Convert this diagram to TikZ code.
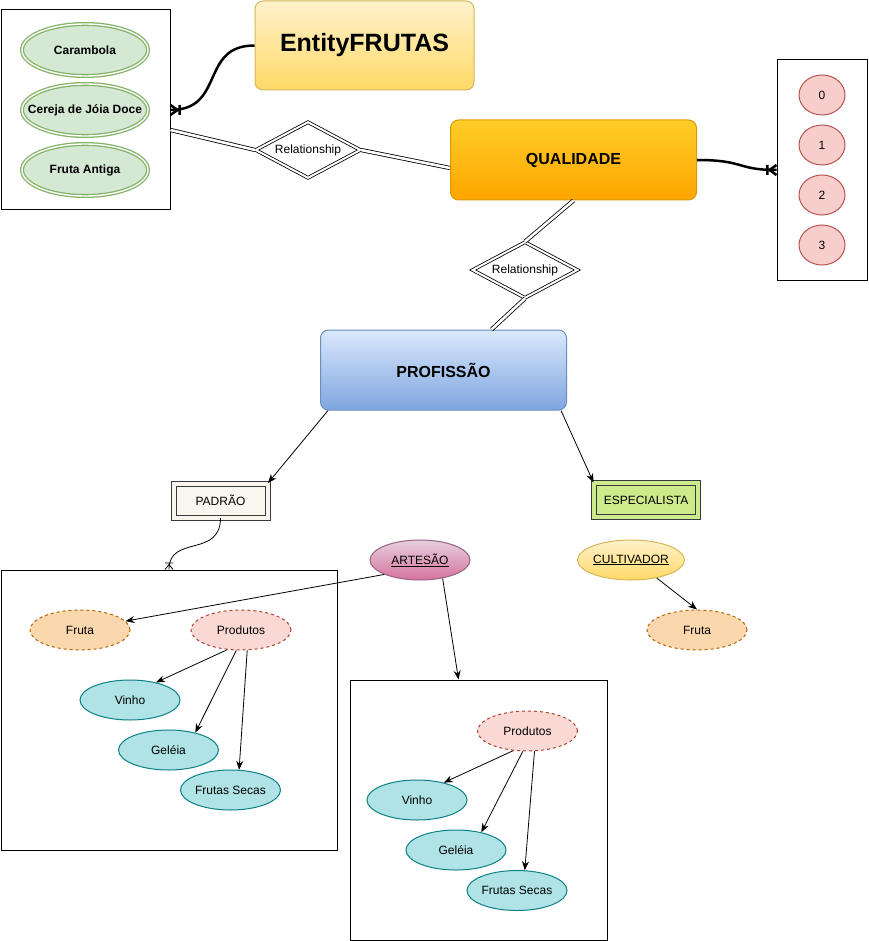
\documentclass[tikz,border=0pt]{standalone}
\usepackage{fontspec}
\setmainfont{Liberation Sans}
\usetikzlibrary{arrows.meta,shapes.geometric}

\definecolor{grnF}{HTML}{D5E8D4}
\definecolor{grnS}{HTML}{82B366}
\definecolor{entT}{HTML}{FFF2CC}
\definecolor{entB}{HTML}{FFD966}
\definecolor{entS}{HTML}{D6B656}
\definecolor{quaT}{HTML}{FFCD28}
\definecolor{quaB}{HTML}{FFA500}
\definecolor{quaS}{HTML}{D79B00}
\definecolor{proT}{HTML}{DAE8FC}
\definecolor{proB}{HTML}{7EA6E0}
\definecolor{proS}{HTML}{6C8EBF}
\definecolor{redF}{HTML}{F8CECC}
\definecolor{redS}{HTML}{B85450}
\definecolor{padF}{HTML}{F9F7ED}
\definecolor{darkS}{HTML}{36393D}
\definecolor{espF}{HTML}{CDEB8B}
\definecolor{artT}{HTML}{E6D0DE}
\definecolor{artB}{HTML}{D5739D}
\definecolor{artS}{HTML}{996185}
\definecolor{fruF}{HTML}{FAD7AC}
\definecolor{fruS}{HTML}{B46504}
\definecolor{prdF}{HTML}{FAD9D5}
\definecolor{prdS}{HTML}{AE4132}
\definecolor{cyaF}{HTML}{B0E3E6}
\definecolor{cyaS}{HTML}{0E8088}

\pgfdeclarearrow{
  name = Crow,
  parameters = {\the\pgfarrowlength,\the\pgfarrowwidth},
  setup code = {
    \pgfarrowssettipend{0pt}
    \pgfarrowssetlineend{0pt}
    \pgfarrowssetbackend{-1.3\pgfarrowlength}
    \pgfarrowssavethe\pgfarrowlength
    \pgfarrowssavethe\pgfarrowwidth
  },
  drawing code = {
    \pgfsetdash{}{0pt}
    \pgfpathmoveto{\pgfqpoint{0pt}{0.5\pgfarrowwidth}}
    \pgfpathlineto{\pgfqpoint{-\pgfarrowlength}{0pt}}
    \pgfpathlineto{\pgfqpoint{0pt}{-0.5\pgfarrowwidth}}
    \pgfpathmoveto{\pgfqpoint{-1.3\pgfarrowlength}{0.5\pgfarrowwidth}}
    \pgfpathlineto{\pgfqpoint{-1.3\pgfarrowlength}{-0.5\pgfarrowwidth}}
    \pgfusepathqstroke
  },
  defaults = {length=7pt, width=10pt}
}

\begin{document}
\begin{tikzpicture}[x=1pt,y=-1pt,
  every node/.style={font=\fontsize{12}{14}\selectfont, inner sep=0pt},
  boxn/.style={rectangle, draw=black, line width=1pt},
  gell/.style={ellipse, draw=grnS, fill=grnF, double=white, double distance=1.4pt, line width=1.3pt,
    minimum width=126pt, minimum height=52pt, font=\fontsize{12}{14}\selectfont\bfseries},
  rell/.style={ellipse, draw=redS, fill=redF, line width=1pt, minimum width=46pt, minimum height=40pt},
  rel/.style={diamond, draw=black, fill=white, double=white, double distance=2pt, line width=0.8pt,
    aspect=1.85, minimum width=105pt, minimum height=56pt},
  bigent/.style={rectangle, rounded corners=8pt, line width=1pt, minimum width=246pt, minimum height=80pt,
    font=\fontsize{16}{19}\selectfont\bfseries},
  dbl/.style={draw=black, line width=0.8pt, double=white, double distance=2.6pt},
  thick/.style={line width=2.5pt, -{Crow[length=7pt,width=10pt]}},
  arr/.style={line width=0.8pt, -{Stealth[length=9pt,width=7pt]}},
  dblrect/.style={rectangle, draw=darkS, line width=1pt, double distance=4pt, minimum width=94pt, minimum height=34pt},
  ell/.style={ellipse, line width=1pt, minimum width=100pt, minimum height=40pt},
  fruta/.style={ell, draw=fruS, fill=fruF, dashed},
  prod/.style={ell, draw=prdS, fill=prdF, dashed},
  cyan/.style={ell, draw=cyaS, fill=cyaF}
]
\useasboundingbox (0,0) rectangle (868,941);

% left box with fruits
\node[boxn, minimum width=169pt, minimum height=200pt] (box1) at (85.5,110) {};
\node[gell] (carambola) at (85,50) {\makebox[0pt]{Carambola}};
\node[gell] (cereja) at (85,110) {\makebox[0pt]{Cereja de Jóia Doce}};
\node[gell] (antiga) at (85,170) {\makebox[0pt]{Fruta Antiga}};

% EntityFRUTAS
\node[rectangle, rounded corners=8pt, draw=entS, line width=1pt, top color=entT, bottom color=entB,
  minimum width=219pt, minimum height=89pt, font=\fontsize{25}{30}\selectfont\bfseries]
  (entity) at (364.5,45.5) {EntityFRUTAS};

% QUALIDADE
\node[bigent, draw=quaS, top color=quaT, bottom color=quaB] (qual) at (573.5,160) {QUALIDADE};

% right box with numbers
\node[boxn, minimum width=90pt, minimum height=220pt] (rbox) at (822,170) {};
\node[rell] (n0) at (822,95) {0};
\node[rell] (n1) at (822,145) {1};
\node[rell] (n2) at (822,195) {2};
\node[rell] (n3) at (822,245) {3};

% relationships
\node[rel] (rel1) at (308,150) {Relationship};
\node[rel] (rel2) at (525,270) {Relationship};

% PROFISSAO
\node[bigent, draw=proS, top color=proT, bottom color=proB] (prof) at (443.5,370) {PROFISSÃO};

% PADRAO / ESPECIALISTA
\node[dblrect, fill=padF, double=padF] (padrao) at (220.5,500.5) {PADRÃO};
\node[dblrect, fill=espF, double=espF, minimum width=104pt] (esp) at (646,500) {ESPECIALISTA};

% bottom left box
\node[boxn, minimum width=336pt, minimum height=280pt] (box3) at (169,710) {};
\node[fruta] (fruta1) at (80,630) {Fruta};
\node[prod] (prod1) at (241,630) {Produtos};
\node[cyan] (vinho1) at (130,700) {Vinho};
\node[cyan] (geleia1) at (168.5,750) {Geléia};
\node[cyan] (secas1) at (230.5,790) {Frutas Secas};

% ARTESAO / CULTIVADOR
\node[ell, draw=artS, top color=artT, bottom color=artB] (artesao) at (420,560) {\underline{ARTESÃO}};
\node[ell, draw=entS, top color=entT, bottom color=entB] (cult) at (631,560) {\underline{CULTIVADOR}};
\node[fruta] (fruta2) at (697,630) {Fruta};

% bottom middle box
\node[boxn, minimum width=257pt, minimum height=260pt] (box2) at (478.5,810) {};
\node[prod] (prod2) at (527.5,731) {Produtos};
\node[cyan] (vinho2) at (417,800) {Vinho};
\node[cyan] (geleia2) at (456,850) {Geléia};
\node[cyan] (secas2) at (517,890.5) {Frutas Secas};

% thick connectors
\draw[thick] (entity.west) .. controls +(-55,0) and +(55,0) .. (cereja.east -| box1.east);
\draw[thick] (qual.east) .. controls +(48,0) and +(-40,0) .. (rbox.west);

% double relationship lines
\draw[dbl] ([yshift=-20pt]box1.east) -- (rel1.west);
\draw[dbl] (rel1.east) -- ([yshift=-8pt]qual.west);
\draw[dbl] (qual.south) -- (rel2.north);
\draw[dbl] (rel2.south) -- ([xshift=48pt]prof.north);

% arrows from PROFISSAO
\draw[arr] ([xshift=8pt]prof.south west) -- (padrao.north east);
\draw[arr] ([xshift=-6pt]prof.south east) -- (esp.north west);

% PADRAO to box3
\draw[line width=0.8pt, -{Crow[length=5pt,width=8pt]}] (padrao.south) .. controls +(0,40) and +(0,-35) .. (box3.north);

% ARTESAO arrows
\draw[arr] (artesao.202) -- (fruta1.11);
\draw[arr] (artesao.321) -- ([xshift=-20pt]box2.north);

% CULTIVADOR arrow
\draw[arr] (cult.325) -- (fruta2.north);

% Produtos arrows (box3)
\draw[arr] (prod1.235) -- (vinho1.34);
\draw[arr] (prod1.257) -- (geleia1.33);
\draw[arr] (prod1.287) -- (secas1.67);

% Produtos arrows (box2)
\draw[arr] (prod2.234) -- (vinho2.33);
\draw[arr] (prod2.257) -- (geleia2.35);
\draw[arr] (prod2.289) -- (secas2.69);
\end{tikzpicture}
\end{document}
